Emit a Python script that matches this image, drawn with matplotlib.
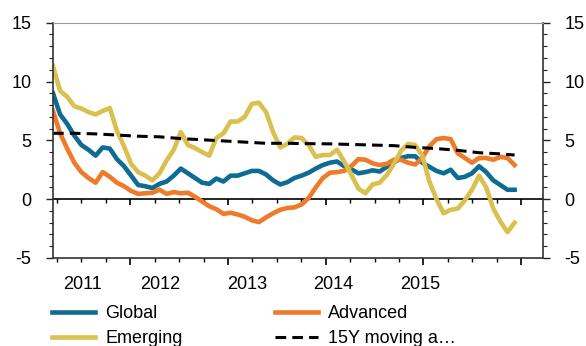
import matplotlib.pyplot as plt
import matplotlib.transforms as mtransforms
import numpy as np

plt.rcParams["font.family"] = ["Liberation Sans", "DejaVu Sans"]
plt.rcParams["axes.unicode_minus"] = False

# Monthly series, Sep 2010 .. Feb 2016 (month index 0..65)
global_vals = [
    9.0, 7.2, 6.4, 5.4, 4.6, 4.2, 3.7, 4.4, 4.3, 3.4,
    2.8, 2.0, 1.2, 1.1, 0.95, 1.3, 1.5, 2.0, 2.6, 2.2,
    1.8, 1.4, 1.3, 1.75, 1.5, 2.0, 2.0, 2.2, 2.4, 2.4,
    2.1, 1.6, 1.25, 1.45, 1.8, 2.0, 2.25, 2.6, 2.9, 3.1,
    3.2, 2.8, 2.55, 2.2, 2.3, 2.45, 2.35, 2.75, 3.1, 3.5,
    3.65, 3.65, 3.1, 2.75, 2.4, 2.2, 2.5, 1.8, 1.9, 2.2,
    2.8, 2.3, 1.6, 1.2, 0.8, 0.8,
]
advanced_vals = [
    7.5, 5.6, 4.3, 3.1, 2.3, 1.8, 1.4, 2.3, 1.9, 1.4,
    1.1, 0.7, 0.45, 0.5, 0.55, 0.8, 0.45, 0.6, 0.5, 0.55,
    0.2, -0.2, -0.6, -0.85, -1.25, -1.15, -1.3, -1.5, -1.8, -1.95,
    -1.55, -1.2, -0.9, -0.75, -0.7, -0.45, 0.1, 1.0, 1.8, 2.25,
    2.3, 2.4, 2.8, 3.4, 3.35, 3.05, 2.9, 3.0, 3.35, 3.35,
    3.1, 2.95, 3.5, 4.5, 5.1, 5.2, 5.1, 3.9, 3.5, 3.1,
    3.5, 3.5, 3.35, 3.6, 3.5, 2.9,
]
emerging_vals = [
    11.3, 9.2, 8.7, 7.9, 7.7, 7.4, 7.2, 7.5, 7.75, 5.8,
    4.5, 3.0, 2.3, 2.0, 1.6, 2.2, 3.3, 4.2, 5.7, 4.6,
    4.35, 4.0, 3.7, 5.2, 5.6, 6.6, 6.6, 7.0, 8.1, 8.2,
    7.4, 5.7, 4.4, 4.7, 5.25, 5.2, 4.6, 3.6, 3.75, 3.75,
    4.2, 3.2, 2.1, 0.9, 0.5, 1.25, 1.4, 2.05, 3.0, 4.1,
    4.7, 4.6, 3.7, 1.5, 0.0, -1.2, -0.9, -0.8, -0.1, 0.8,
    2.0, 1.0, -0.8, -1.9, -2.8, -2.0,
]
# 15Y moving average, read every 3 months
ma_months = [0, 3, 6, 9, 12, 15, 18, 21, 24, 27, 30, 33, 36, 39, 42, 45, 48, 51, 54, 57, 60, 63, 65]
ma_vals = [5.6, 5.6, 5.55, 5.45, 5.35, 5.3, 5.15, 5.05, 4.95, 4.85, 4.75, 4.75,
           4.72, 4.7, 4.65, 4.6, 4.55, 4.4, 4.3, 4.15, 3.95, 3.85, 3.75]

years = ["2011", "2012", "2013", "2014", "2015"]
year_pos = [4.1, 15.1, 27.3, 39.4, 51.7]  # where the year labels sit (month index)

months = np.arange(len(global_vals))

fig = plt.figure(figsize=(5.86, 3.46), dpi=100)
ax = fig.add_axes([53 / 586, 1 - 258 / 346, 490 / 586, 235.3 / 346])

l_glob, = ax.plot(months, global_vals, color="#0e6b93", lw=3.3, label="Global", solid_joinstyle="round")
l_adv, = ax.plot(months, advanced_vals, color="#ee7a2a", lw=3.3, label="Advanced", solid_joinstyle="round")
l_em, = ax.plot(months, emerging_vals, color="#d9c04f", lw=3.3, label="Emerging", solid_joinstyle="round")
l_ma, = ax.plot(ma_months, ma_vals, color="black", lw=2.2, ls=(0, (3.5, 2)), label="15Y moving a\u2026")

ax.set_xlim(0, 69)
ax.set_ylim(-5, 15)

# y axis on both sides
ax.set_yticks([-5, 0, 5, 10, 15])
ax.set_yticks(np.arange(-5, 16, 1), minor=True)
ax.tick_params(axis="y", which="both", direction="out", left=True, right=True,
               labelleft=True, labelright=True, labelsize=13, colors="#222222", labelcolor="black")
ax.tick_params(axis="y", which="major", length=5, width=1, pad=10.5)
ax.tick_params(axis="y", which="minor", length=3, width=0.8)

# x ticks: small marks, bigger ones every fourth
xt = 0.56 + 3.44 * np.arange(20)
ax.set_xticks(xt[3::4])
ax.set_xticks(xt, minor=True)
ax.tick_params(axis="x", which="major", direction="out", length=5, width=1.2, labelbottom=False)
ax.tick_params(axis="x", which="minor", direction="out", length=3, width=1)

# zero line with the same tick marks
sec = ax.secondary_xaxis(0.25)
sec.set_xticks(xt[3::4])
sec.set_xticks(xt, minor=True)
sec.tick_params(axis="x", which="major", direction="out", length=4, width=1.2, labelbottom=False)
sec.tick_params(axis="x", which="minor", direction="out", length=3, width=1)
sec.spines["bottom"].set_linewidth(1.2)

trans = mtransforms.blended_transform_factory(ax.transData, ax.transAxes)
for pos, lab in zip(year_pos, years):
    ax.text(pos, -0.112, lab, transform=trans, ha="center", va="center", fontsize=13, color="black")

for s in ["left", "right", "bottom"]:
    ax.spines[s].set_color("#333333")
    ax.spines[s].set_linewidth(1.2)
ax.spines["top"].set_color("#999999")
ax.spines["top"].set_linewidth(0.8)

# legend fills by column: Global/Emerging on the left, Advanced/15Y on the right
fig.legend([l_glob, l_em, l_adv, l_ma], [l_glob.get_label(), l_em.get_label(), l_adv.get_label(), l_ma.get_label()],
           loc="upper left", bbox_to_anchor=(52 / 586, 1 - 305 / 346),
           ncol=2, frameon=False, fontsize=13, handlelength=2.4, handletextpad=0.55,
           columnspacing=5.1, labelspacing=0.45, borderpad=0, borderaxespad=0)

fig.savefig("out.png", dpi=100)
